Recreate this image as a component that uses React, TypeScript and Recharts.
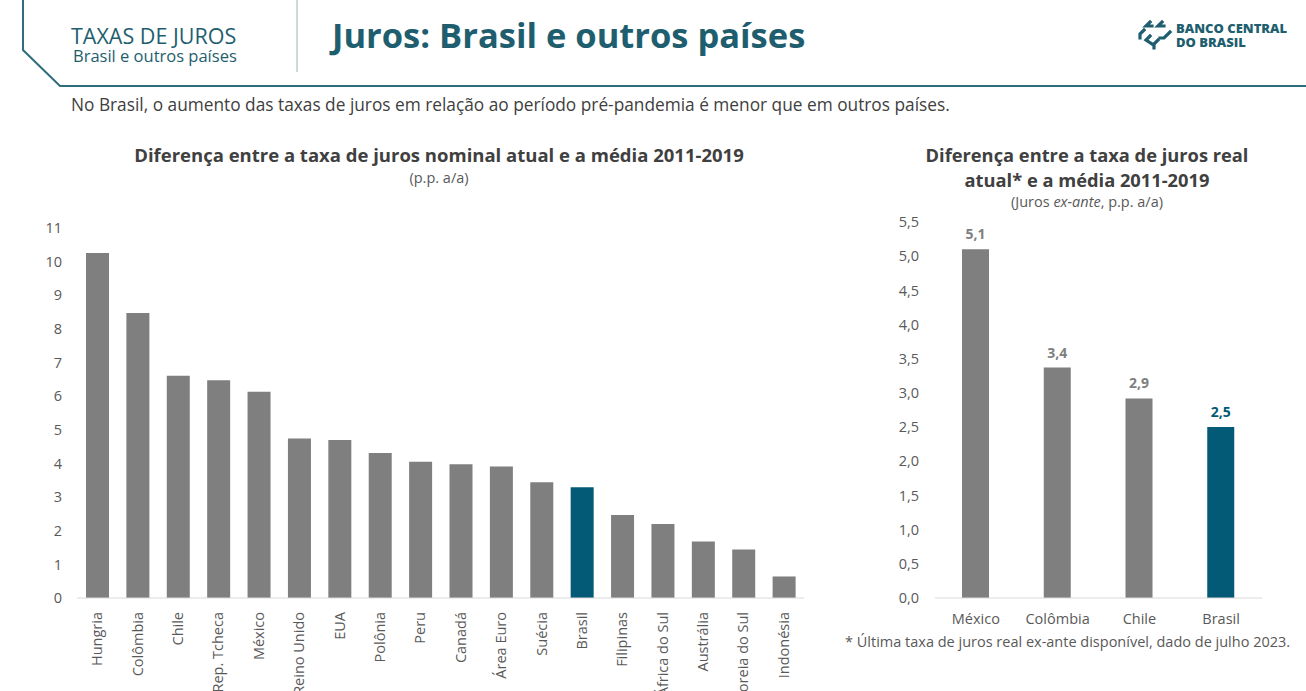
import React from "react";
import { BarChart, Bar, XAxis, YAxis, Cell, LabelList } from "recharts";

const nominalCountries = [
  "Hungria", "Colômbia", "Chile", "Rep. Tcheca", "México", "Reino Unido", "EUA", "Polônia", "Peru",
  "Canadá", "Área Euro", "Suécia", "Brasil", "Filipinas", "África do Sul", "Austrália", "Coreia do Sul", "Indonésia"
];
const nominalValues = [10.26, 8.47, 6.61, 6.47, 6.13, 4.74, 4.7, 4.31, 4.05, 3.98, 3.91, 3.44, 3.29, 2.47, 2.2, 1.68, 1.44, 0.64];
const nominalTicks = [0, 1, 2, 3, 4, 5, 6, 7, 8, 9, 10, 11];

const realCountries = ["México", "Colômbia", "Chile", "Brasil"];
const realValues = [5.1, 3.37, 2.92, 2.5];
const realLabels = ["5,1", "3,4", "2,9", "2,5"];
const realTicks = [0, 0.5, 1, 1.5, 2, 2.5, 3, 3.5, 4, 4.5, 5, 5.5];

const highlight = "Brasil";
const GREY = "#7f7f7f";
const TEAL = "#035a76";
const TEXT = "#404040";
const TICK = "#595959";
const FONT = "'Open Sans', sans-serif";

const nominalData = nominalCountries.map((name, i) => ({ name, value: nominalValues[i] }));
const realData = realCountries.map((name, i) => ({ name, value: realValues[i], label: realLabels[i] }));

const RotatedTick = (props: any) => {
  const { x, y, payload } = props;
  return (
    <text
      x={0}
      y={0}
      dy="0.35em"
      transform={`translate(${x},${y + 6}) rotate(-90)`}
      textAnchor="end"
      fill={TICK}
      fontSize={14.5}
      fontFamily={FONT}
    >
      {payload.value}
    </text>
  );
};

const RealLabel = (props: any) => {
  const { x, y, width, index } = props;
  const name = realCountries[index];
  return (
    <text
      x={x + width / 2}
      y={y - 15}
      dy="0.35em"
      textAnchor="middle"
      fill={name === highlight ? TEAL : GREY}
      fontSize={14}
      fontWeight={700}
      fontFamily={FONT}
    >
      {realLabels[index]}
    </text>
  );
};

const abs = (left: number, top: number, extra: React.CSSProperties = {}): React.CSSProperties => ({
  position: "absolute",
  left,
  top,
  whiteSpace: "nowrap",
  fontFamily: FONT,
  ...extra
});

export default function App() {
  return (
    <div
      style={{
        position: "fixed",
        left: 0,
        top: 0,
        width: 1306,
        height: 691,
        overflow: "hidden",
        background: "#ffffff",
        fontFamily: FONT
      }}
    >
      {/* header frame */}
      <svg width={1306} height={100} style={{ position: "absolute", left: 0, top: 0 }}>
        <polyline points="23,0 23,50 60,86 1306,86" fill="none" stroke="#2f6d7d" strokeWidth={2} />
        <line x1={297} y1={0} x2={297} y2={72} stroke="#9fb5bc" strokeWidth={1} />
        {/* logo mark */}
        <g stroke="#1e5e6e" strokeWidth={3.2} fill="none" strokeLinecap="square">
          <polyline points="1150,22 1146,26 1152,26" />
          <polyline points="1162,22 1158,26 1164,26" />
          <polyline points="1144,30 1140,34 1140,38" />
          <polyline points="1170,32 1164,38 1160,38" />
          <polyline points="1150,36 1146,40 1152,44" />
          <polyline points="1158,40 1154,44 1154,48" />
        </g>
      </svg>
      <div style={abs(71, 25, { fontSize: 21.5, color: "#1e5e6e", lineHeight: "22px" })}>TAXAS DE JUROS</div>
      <div style={abs(73, 47, { fontSize: 16.5, color: "#1e5e6e", lineHeight: "18px" })}>Brasil e outros países</div>
      <div style={abs(332, 12, { fontSize: 34.5, fontWeight: 700, color: "#1e5e6e", lineHeight: "46px" })}>
        Juros: Brasil e outros países
      </div>
      <div style={abs(1176, 22, { fontSize: 13, fontWeight: 800, color: "#1e5e6e", lineHeight: "13px" })}>
        BANCO CENTRAL
      </div>
      <div style={abs(1176, 36, { fontSize: 13, fontWeight: 800, color: "#1e5e6e", lineHeight: "13px" })}>
        DO BRASIL
      </div>
      <div style={abs(71, 93, { fontSize: 17.3, color: TEXT, lineHeight: "24px" })}>
        No Brasil, o aumento das taxas de juros em relação ao período pré-pandemia é menor que em outros países.
      </div>

      {/* left titles */}
      <div style={abs(0, 142, { width: 878, textAlign: "center", fontSize: 18.5, fontWeight: 700, color: TEXT, lineHeight: "26px" })}>
        Diferença entre a taxa de juros nominal atual e a média 2011-2019
      </div>
      <div style={abs(0, 168, { width: 878, textAlign: "center", fontSize: 14.5, color: TICK, lineHeight: "20px" })}>
        (p.p. a/a)
      </div>

      {/* right titles */}
      <div style={abs(887, 142, { width: 400, textAlign: "center", fontSize: 18.3, fontWeight: 700, color: TEXT, lineHeight: "25px" })}>
        Diferença entre a taxa de juros real
        <br />
        atual* e a média 2011-2019
      </div>
      <div style={abs(887, 192, { width: 400, textAlign: "center", fontSize: 14.5, color: TICK, lineHeight: "20px" })}>
        (Juros <i>ex-ante</i>, p.p. a/a)
      </div>

      {/* left chart */}
      <div style={{ position: "absolute", left: 0, top: 210 }}>
        <BarChart
          width={820}
          height={481}
          data={nominalData}
          margin={{ top: 18, right: 16, bottom: 0, left: 17 }}
          barSize={23}
        >
          <XAxis
            dataKey="name"
            interval={0}
            height={93}
            tick={<RotatedTick />}
            tickLine={false}
            axisLine={{ stroke: "#d9d9d9", strokeWidth: 1 }}
          />
          <YAxis
            width={60}
            domain={[0, 11]}
            ticks={nominalTicks}
            interval={0}
            axisLine={false}
            tickLine={false}
            tickSize={0}
            tickMargin={15}
            tick={{ fill: TICK, fontSize: 14.5, fontFamily: FONT }}
          />
          <Bar dataKey="value" isAnimationActive={false}>
            {nominalData.map((d) => (
              <Cell key={d.name} fill={d.name === highlight ? TEAL : GREY} />
            ))}
          </Bar>
        </BarChart>
      </div>

      {/* right chart */}
      <div style={{ position: "absolute", left: 850, top: 205 }}>
        <BarChart
          width={430}
          height={445}
          data={realData}
          margin={{ top: 17, right: 18, bottom: 22, left: 30 }}
          barSize={27}
        >
          <XAxis
            dataKey="name"
            interval={0}
            height={30}
            tickLine={false}
            tickSize={0}
            tickMargin={16}
            axisLine={{ stroke: "#d9d9d9", strokeWidth: 1 }}
            tick={{ fill: TICK, fontSize: 14.5, fontFamily: FONT }}
          />
          <YAxis
            width={55}
            domain={[0, 5.5]}
            ticks={realTicks}
            interval={0}
            axisLine={false}
            tickLine={false}
            tickSize={0}
            tickMargin={16}
            tickFormatter={(v: number) => v.toFixed(1).replace(".", ",")}
            tick={{ fill: TICK, fontSize: 14.5, fontFamily: FONT }}
          />
          <Bar dataKey="value" isAnimationActive={false}>
            {realData.map((d) => (
              <Cell key={d.name} fill={d.name === highlight ? TEAL : GREY} />
            ))}
            <LabelList dataKey="label" content={<RealLabel />} />
          </Bar>
        </BarChart>
      </div>
      <div style={abs(845, 631, { fontSize: 14.5, color: TICK, lineHeight: "22px" })}>
        * Última taxa de juros real ex-ante disponível, dado de julho 2023.
      </div>
    </div>
  );
}
